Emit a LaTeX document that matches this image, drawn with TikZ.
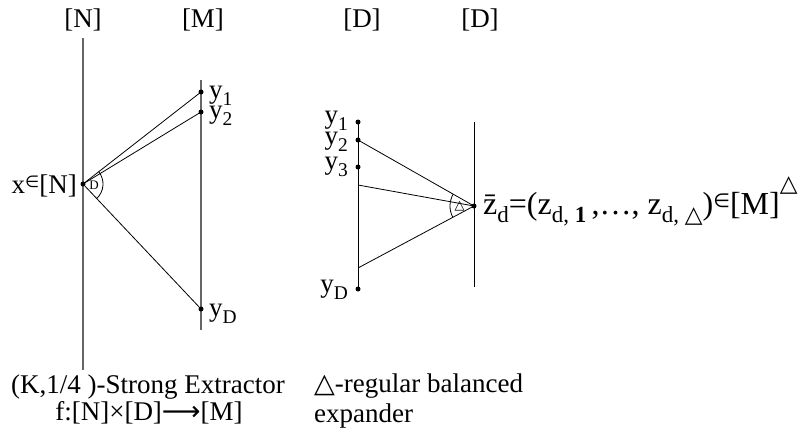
\documentclass[tikz,border=0pt]{standalone}
\usepackage{fontspec}
\setmainfont{Liberation Serif}
\newfontfamily\symfont{DejaVu Sans}
\usetikzlibrary{angles,quotes}

\tikzset{
    axisline/.style={draw=black!60,line width=1.4pt},
    dline/.style={draw=black,line width=1pt},
    edge/.style={draw=black,line width=0.8pt},
    dot/.style={circle,fill=black,inner sep=0pt,minimum size=5pt},
    lbl/.style={font=\fontsize{27}{30}\selectfont,inner sep=0pt},
    biglbl/.style={font=\fontsize{32}{34}\selectfont,inner sep=0pt},
    anglemark/.style={draw,line width=0.8pt,angle radius=20pt,angle eccentricity=0.55,
        font=\fontsize{13}{13}\selectfont},
}
\newcommand{\elem}{\raisebox{0.2em}{\scalebox{0.6}{\symfont ∈}}}
\newcommand{\tri}{{\symfont △}}
\newcommand{\sub}[1]{\raisebox{-0.28em}{\scalebox{0.72}{#1}}}
\newcommand{\sups}[1]{\raisebox{0.7em}{\scalebox{0.72}{#1}}}

\begin{document}
\begin{tikzpicture}[x=1pt,y=-1pt]
    \useasboundingbox (0,0) rectangle (804,434);

    % extractor
    \node[lbl] (tN) at (83,20) {[N]};
    \node[lbl] (tM) at (203,20) {[M]};
    \coordinate (Ntop) at (83,38);
    \coordinate (Nbot) at (83,370);
    \coordinate (Mtop) at (201,80);
    \coordinate (Mbot) at (201,330);
    \draw[axisline] (Ntop)--(Nbot);
    \draw[axisline] (Mtop)--(Mbot);

    \node[dot] (x) at (83,184) {};
    \node[dot] (y1) at (201,92) {};
    \node[dot] (y2) at (201,112) {};
    \node[dot] (yD) at (201,309) {};
    \draw[edge] (x.center)--(y1.center);
    \draw[edge] (x.center)--(y2.center);
    \draw[edge] (x.center)--(yD.center);
    \pic[anglemark,"D"] {angle=yD--x--y1};

    \node[lbl,anchor=base east] (lx) at (77,193) {x\elem[N]};
    \node[lbl,anchor=base west] (ly1) at (209,98) {y\sub{1}};
    \node[lbl,anchor=base west] (ly2) at (209,118) {y\sub{2}};
    \node[lbl,anchor=base west] (lyD) at (209,316) {y\sub{D}};

    \node[lbl] (cap1) at (148,387) {(K,1/4 )-Strong Extractor};
    \node[lbl] (cap2) at (149,413) {f:[N]×[D]{\symfont ⟶}[M]};

    % expander
    \node[lbl] (tD1) at (362,20) {[D]};
    \node[lbl] (tD2) at (480,20) {[D]};

    \node[dot] (u1) at (358,122) {};
    \node[dot] (u2) at (358,140) {};
    \node[dot] (u3) at (358,167) {};
    \coordinate (ua) at (358,185);
    \coordinate (ub) at (358,268);
    \node[dot] (uD) at (358,289) {};
    \coordinate (Rtop) at (474,122);
    \coordinate (Rbot) at (474,287);
    \node[dot] (z) at (474,206) {};
    \draw[dline] (u1.center)--(uD.center);
    \draw[dline] (Rtop)--(Rbot);
    \draw[edge] (z.center)--(u2.center);
    \draw[edge] (z.center)--(ua);
    \draw[edge] (z.center)--(ub);
    \pic[anglemark,angle radius=24pt,angle eccentricity=0.6,"\tri"] {angle=u2--z--ub};

    \node[lbl,anchor=base east] (lu1) at (348,123) {y\sub{1}};
    \node[lbl,anchor=base east] (lu2) at (348,144) {y\sub{2}};
    \node[lbl,anchor=base east] (lu3) at (348,169) {y\sub{3}};
    \node[lbl,anchor=base east] (luD) at (348,292) {y\sub{D}};

    \node[biglbl,anchor=base west] (lz) at (483,214)
        {\={z}\sub{d}=(z\sub{d, \textbf{1}}\,,…, z\sub{d, \tri})\elem[M]\sups{\tri}};

    \node[lbl,anchor=west,align=left] (cap3) at (314,401) {\tri-regular balanced\\expander};

\end{tikzpicture}
\end{document}
